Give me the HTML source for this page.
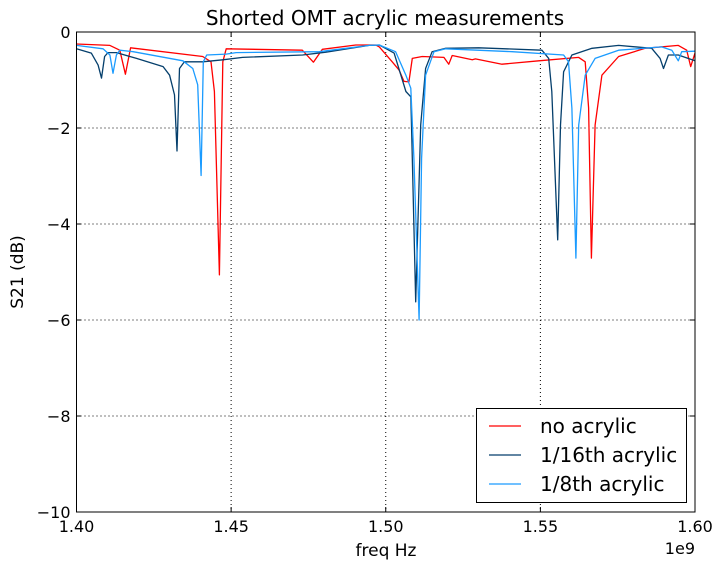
<!DOCTYPE html>
<html><head><meta charset="utf-8"><style>
body{margin:0;background:#fff;}
svg{display:block;font-family:"DejaVu Sans","Liberation Sans",sans-serif;}
</style></head><body>
<svg id="chart" width="724" height="570">
<rect width="724" height="570" fill="#fff"/>
<g id="grid"></g><g id="series"></g><g id="axes"></g>
<text x="385" y="25" text-anchor="middle" font-size="20">Shorted OMT acrylic measurements</text>
<text x="386" y="556" text-anchor="middle" font-size="17">freq Hz</text>
<text transform="translate(23,272) rotate(-90)" text-anchor="middle" font-size="17">S21 (dB)</text>
<text x="695" y="554" text-anchor="end" font-size="16">1e9</text>
<g>
<rect x="476.5" y="408.5" width="210" height="94" fill="#fff" stroke="#000"/>
</g>
<g id="legend"></g>
</svg>
<script>
const xTicks=[1.40,1.45,1.50,1.55,1.60];
const yTicks=[0,-2,-4,-6,-8,-10];
const seriesNames=["no acrylic","1/16th acrylic","1/8th acrylic"];
const seriesColors=["#ff0000","#053f6c","#1a9bff"];
const redF=[1.40,1.4108,1.414,1.4158,1.4175,1.4408,1.4435,1.4446,1.4462,1.4473,1.4484,1.473,1.4766,1.4795,1.4903,1.4968,1.4979,1.5021,1.5043,1.5059,1.5075,1.5086,1.5118,1.5188,1.5204,1.5215,1.528,1.529,1.5376,1.5495,1.5624,1.5645,1.5656,1.5665,1.5677,1.5699,1.5753,1.5839,1.5946,1.5973,1.5986,1.60];
const redV=[-0.25,-0.28,-0.38,-0.88,-0.33,-0.51,-0.62,-1.24,-5.06,-0.62,-0.35,-0.38,-0.63,-0.36,-0.27,-0.27,-0.31,-0.62,-0.79,-1.03,-1.04,-0.55,-0.51,-0.53,-0.67,-0.49,-0.58,-0.56,-0.67,-0.6,-0.53,-0.62,-1.58,-4.71,-1.94,-0.9,-0.51,-0.34,-0.28,-0.38,-0.72,-0.44];
const darkF=[1.40,1.4048,1.407,1.4081,1.4091,1.4102,1.4129,1.4194,1.428,1.4301,1.4317,1.4325,1.4333,1.4349,1.4408,1.4473,1.4537,1.4731,1.4806,1.4946,1.4979,1.5027,1.5065,1.5081,1.5086,1.5097,1.5113,1.5129,1.515,1.5194,1.5301,1.5505,1.5527,1.5537,1.5556,1.5565,1.5575,1.5602,1.5667,1.5753,1.586,1.5887,1.5898,1.5914,1.5946,1.60];
const darkV=[-0.35,-0.44,-0.69,-0.96,-0.51,-0.43,-0.43,-0.55,-0.72,-0.9,-1.31,-2.48,-0.76,-0.62,-0.62,-0.58,-0.53,-0.48,-0.42,-0.28,-0.27,-0.44,-1.24,-1.35,-2.63,-5.62,-1.94,-0.76,-0.41,-0.34,-0.33,-0.38,-0.55,-1.24,-4.33,-1.94,-0.83,-0.48,-0.34,-0.28,-0.34,-0.55,-0.76,-0.48,-0.48,-0.6];
const lightF=[1.40,1.4086,1.4108,1.4118,1.4129,1.414,1.4183,1.4344,1.4376,1.4392,1.4403,1.441,1.4421,1.4484,1.4516,1.4785,1.4946,1.4979,1.5032,1.5065,1.5081,1.5091,1.5108,1.5116,1.5129,1.5156,1.5194,1.5409,1.5575,1.5591,1.5602,1.5615,1.5624,1.5645,1.5677,1.5753,1.5892,1.5925,1.5946,1.5957,1.60];
const lightV=[-0.28,-0.35,-0.48,-0.86,-0.48,-0.38,-0.41,-0.6,-0.76,-1.1,-2.99,-0.62,-0.48,-0.46,-0.43,-0.41,-0.28,-0.27,-0.41,-0.9,-1.17,-2.63,-6.0,-2.63,-0.9,-0.41,-0.35,-0.41,-0.48,-0.62,-1.59,-4.71,-1.94,-0.9,-0.55,-0.38,-0.31,-0.38,-0.6,-0.41,-0.4];
const L=76.5,R=695,T=32,B=512;
const sx=f=>L+(f-1.40)/(0.20)*(R-L);
const sy=v=>T+(0-v)/10*(B-T);
const NS="http://www.w3.org/2000/svg";
function mk(tag,attrs,parent){const e=document.createElementNS(NS,tag);for(const k in attrs)e.setAttribute(k,attrs[k]);parent.appendChild(e);return e;}
const grid=document.getElementById('grid'),axes=document.getElementById('axes'),ser=document.getElementById('series'),leg=document.getElementById('legend');
xTicks.forEach(t=>{const x=sx(t);
 const g=mk('line',{x1:x,x2:x,y1:T,y2:B,stroke:'#000','stroke-dasharray':'1,3','stroke-width':1},grid);
 
 
 mk('line',{x1:x,x2:x,y1:B,y2:B-5,stroke:'#000'},axes);
 mk('line',{x1:x,x2:x,y1:T,y2:T+5,stroke:'#000'},axes);
 const tx=mk('text',{x:x,y:B+20,'text-anchor':'middle','font-size':16},axes);tx.textContent=t.toFixed(2);
 
 
});
yTicks.forEach(t=>{const y=sy(t);
 const g=mk('line',{x1:L,x2:R,y1:y,y2:y,stroke:'#000','stroke-dasharray':'1,3','stroke-width':1},grid);
 
 
 mk('line',{x1:L,x2:L+5,y1:y,y2:y,stroke:'#000'},axes);
 mk('line',{x1:R,x2:R-5,y1:y,y2:y,stroke:'#000'},axes);
 const tx=mk('text',{x:L-6,y:y+6,'text-anchor':'end','font-size':16},axes);tx.textContent=(t===0?'0':'\u2212'+Math.abs(t));
 
 
});
const fr=mk('rect',{x:L,y:T,width:R-L,height:B-T,fill:'none',stroke:'#000'},axes);


const all=[[redF,redV],[darkF,darkV],[lightF,lightV]];
const names=['series-no-acrylic','series-1-16th-acrylic','series-1-8th-acrylic'];
all.forEach((s,i)=>{
 const d=s[0].map((f,j)=>(j?'L':'M')+sx(f).toFixed(1)+','+sy(s[1][j]).toFixed(1)).join('');
 const p=mk('path',{d:d,fill:'none',stroke:seriesColors[i],'stroke-width':1.3,'stroke-linejoin':'round'},ser);
 
 
 const y=426+i*29;
 const ln=mk('line',{x1:489,x2:521,y1:y,y2:y,stroke:seriesColors[i],'stroke-width':1.3},leg);
 
 
 const tx=mk('text',{x:540,y:y+7,'font-size':20},leg);tx.textContent=seriesNames[i];
 
 
});
</script>
</body></html>
